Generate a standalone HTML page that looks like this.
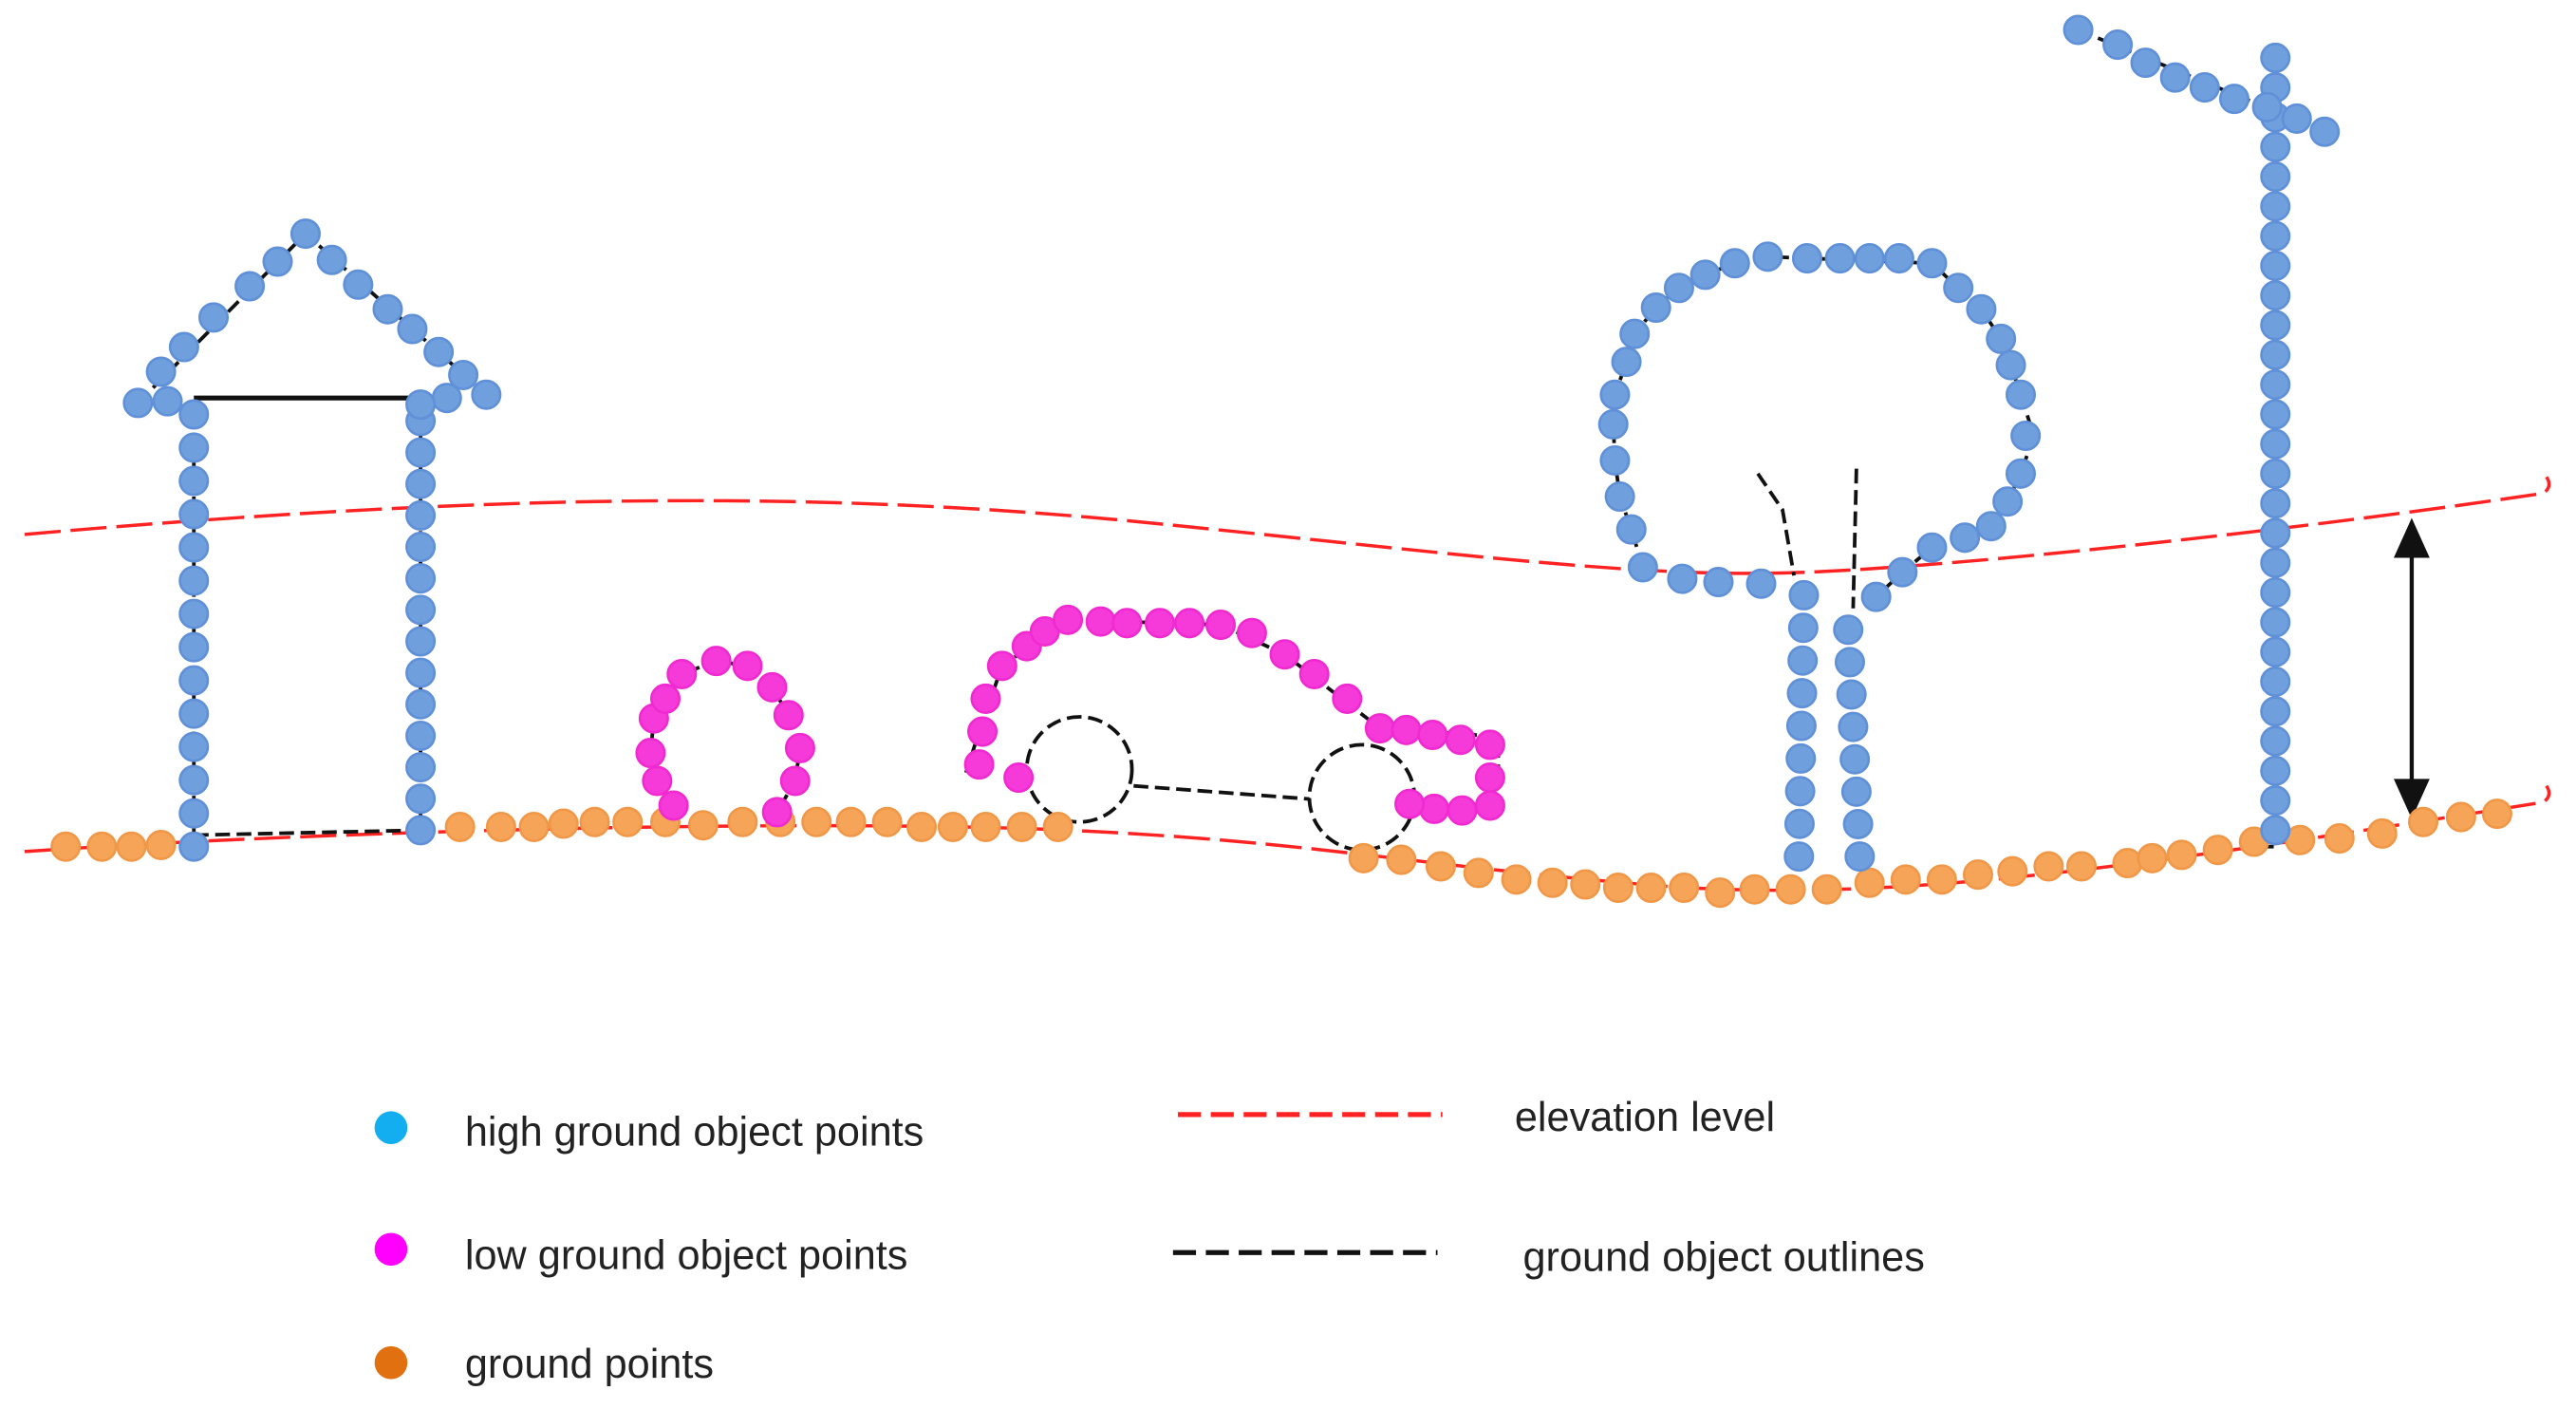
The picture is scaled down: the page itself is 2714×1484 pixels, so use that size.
<!DOCTYPE html>
<html><head><meta charset="utf-8"><style>html,body{margin:0;padding:0;background:#fff}svg{display:block}</style></head>
<body>
<svg id="s" width="2714" height="1484" viewBox="0 0 1568 857" xmlns="http://www.w3.org/2000/svg">
<rect width="1568" height="857" fill="#fff"/>
<g fill="none" stroke="#f22" stroke-width="2" stroke-dasharray="22,6">
<path d="M15,325 C300,300 500,298 700,318 S1000,352 1100,348 S1400,322 1548,300 q6,-4 2,-10"/>
<path d="M15,518 C200,505 500,498 650,505 S850,525 1000,538 S1300,527 1548,488 q6,-4 2,-10"/>
</g>
<g fill="none" stroke="#111" stroke-width="2.2" stroke-dasharray="9,4">
<path d="M118,508 L256,505"/>
<path d="M118,242 L256,242" stroke-dasharray="none" stroke-width="3"/>
<path d="M84,245 L186,142 L296,240"/>
<path d="M118,250 L118,515 M256,245 L256,505"/>
<circle cx="657" cy="468" r="32"/>
<circle cx="829" cy="485" r="32"/>
<path d="M690,478 L797,486"/>
<path d="M588,470 L596,445 L610,405 L650,377 L743,380 L782,398 L840,443 L912,448 L912,470"/>
<path d="M1070,288 L1085,310 L1092,350 M1130,285 L1128,370"/>
<path d="M1385,35 L1385,515 L1372,515"/>
<path d="M1265,18 L1415,80"/>
<path d="M1000,345 L993,322 L986,302 L983,280 L982,258 L983,240 L990,220 L995,203 L1008,187 L1022,175 L1038,167 L1056,160 L1076,156 L1176,160 L1192,175 L1206,188 L1218,206 L1224,222 L1230,240 L1238,265 L1230,288 L1222,305 L1212,320 L1176,333 L1158,348 L1142,363"/>
<path d="M410,490 L400,475 L396,458 L398,437 L405,425 L415,410 L436,402 L455,405 L470,418 L480,435 L487,455 L484,475 L473,494"/>
</g>
<g stroke="#111" stroke-width="2.5">
<line x1="1468" y1="332" x2="1468" y2="482"/>
<polygon points="1468,318 1459,338 1477,338" fill="#111"/>
<polygon points="1468,495 1459,475 1477,475" fill="#111"/>
</g>
<g id="pts"></g>
<g font-family="'Liberation Sans',sans-serif" font-size="25" fill="#222">
<circle cx="238" cy="686" r="10" fill="#12aef0"/>
<circle cx="238" cy="760" r="10" fill="#f0f"/>
<circle cx="238" cy="829" r="10" fill="#e07010"/>
<text x="283" y="697">high ground object points</text>
<text x="283" y="772">low ground object points</text>
<text x="283" y="838">ground points</text>
<line x1="717" y1="678" x2="878" y2="678" stroke="#f22" stroke-width="3" stroke-dasharray="14,6"/>
<line x1="714" y1="762" x2="875" y2="762" stroke="#111" stroke-width="3" stroke-dasharray="14,6"/>
<text x="922" y="688">elevation level</text>
<text x="927" y="773">ground object outlines</text>
</g>
</svg>
<script>
var g=document.getElementById('pts'),NS='http://www.w3.org/2000/svg';
function c(x,y,f,s){var e=document.createElementNS(NS,'circle');e.setAttribute('cx',x);e.setAttribute('cy',y);e.setAttribute('r',8.5);e.setAttribute('fill',f);e.setAttribute('stroke',s);e.setAttribute('stroke-width',1.5);g.appendChild(e);}
function col(x1,y1,x2,y2,n,f,s){for(var i=0;i<n;i++){var t=n>1?i/(n-1):0;c(x1+(x2-x1)*t,y1+(y2-y1)*t,f,s);}}
var B='#6f9fdc',BS='#5f90d8',P='#f53ad9',PS='#f02ad0',O='#f5a458',OS='#f09848';
function L(a,f,s){for(var i=0;i<a.length;i+=2)c(a[i],a[i+1],f,s);}
L([40,515,62,515,80,515,98,514,280,503,305,503,325,503,343,501,362,500,382,500,405,500,428,502,452,500,475,500,497,500,518,500,540,500,561,503,580,503,600,503,622,503,644,503,830,522,853,523,877,527,900,531,923,535,945,537,965,538,985,540,1005,540,1025,540,1047,543,1068,541,1090,541,1112,541,1138,537,1160,535,1182,535,1204,532,1225,530,1247,527,1267,527,1295,525,1310,522,1328,520,1350,517,1372,512,1400,511,1424,510,1450,507,1475,500,1498,497,1520,495],O,OS);
col(118,252,118,515,14,B,BS);
col(256,256,256,505,14,B,BS);
L([84,245,102,244,98,226,112,211,130,193,152,174,169,159,186,142,202,158,218,173,236,188,251,200,267,214,282,228,296,240,272,242,256,246],B,BS);
L([398,437,405,425,415,410,436,402,455,405,470,418,480,435,487,455,484,475,473,494,410,490,400,475,396,458],P,PS);
L([596,465,598,445,600,425,610,405,625,393,636,384,650,377,670,378,686,379,706,379,724,379,743,380,762,385,782,398,800,410,820,425,840,443,856,444,872,447,889,450,907,453,907,473,907,490,890,493,873,492,858,489,620,473],P,PS);
L([1000,345,1024,352,1046,354,1072,355,993,322,986,302,983,280,982,258,983,240,990,220,995,203,1008,187,1022,175,1038,167,1056,160,1076,156,1100,157,1120,157,1138,157,1156,157,1176,160,1192,175,1206,188,1218,206,1224,222,1230,240,1233,265,1230,288,1222,305,1212,320,1196,327,1176,333,1158,348,1142,363],B,BS);
col(1098,362,1095,521,9,B,BS);
col(1125,383,1132,521,8,B,BS);
col(1385,35,1385,505,27,B,BS);
L([1265,18,1289,27,1306,38,1324,47,1342,53,1360,60,1380,65,1398,72,1415,80],B,BS);
</script>
</body></html>
